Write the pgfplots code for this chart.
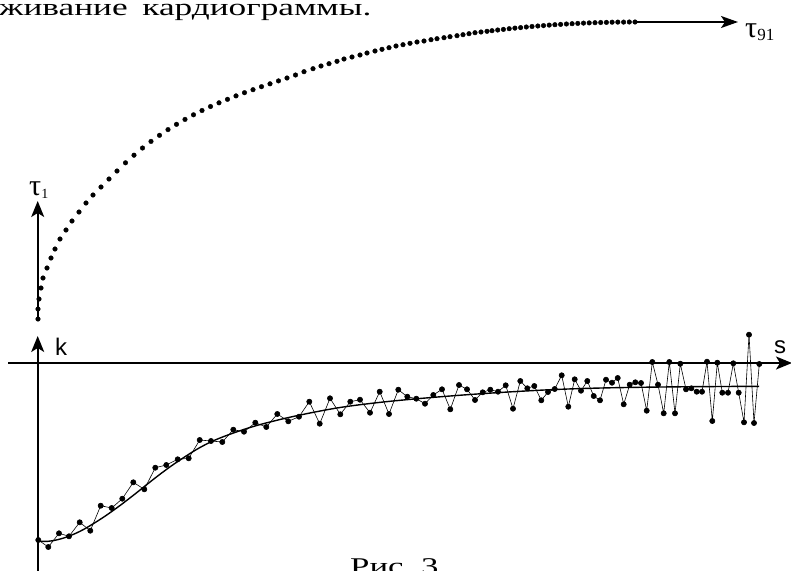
\documentclass[border=0pt]{standalone}
\usepackage{fontspec}
\setmainfont{Liberation Serif}
\newfontfamily\sansf{Liberation Sans}
\usepackage{graphicx}
\usepackage{pgfplots}
\pgfplotsset{compat=1.18}
\usetikzlibrary{arrows.meta}

% coordinates are in pixels of the original figure (y grows downwards)
\pgfplotstableread{
x y
38 319
38 309
39 299
41 288
43 278
47 268
51 258
55 249
60 239
66 230
72 221
79 212
86 203
93 195
101 187
109 179
117 171
125.5 162.8
134 155.2
142.5 148.0
151 141.4
159.5 135.3
168 129.6
176.5 124.3
185 119.4
193.5 114.8
202 110.5
210.5 106.5
219 102.8
227.5 99.3
236 95.9
244.5 92.7
253 89.7
261.5 86.7
270 83.8
278.5 80.9
287 78.0
295.5 75.0
304 71.7
313 68.7
321 66.0
329 63.7
337 61.3
344 59.0
352 57.0
360 55.0
367 53.0
375 51.0
382 49.3
389 47.7
396 46.0
403 44.7
410 43.3
417 42.0
424 41.0
431 39.7
437 38.7
444 37.7
450 36.7
457 35.7
463 34.7
469 33.7
475 32.7
481 32.0
487 31.3
492 30.7
497.7 30.0
503.4 29.4
509.2 28.7
514.9 28.1
520.6 27.6
526.3 27.0
532.0 26.5
537.8 26.0
543.5 25.6
549.2 25.1
554.9 24.7
560.6 24.4
566.4 24.0
572.1 23.7
577.8 23.4
583.5 23.1
589.2 22.9
595.0 22.7
600.7 22.5
606.4 22.4
612.1 22.2
617.8 22.1
623.6 22.1
629.3 22.0
635.0 22.0
}\tautable

\pgfplotstableread{
x y
38.3 540
48.3 547
59 533.3
69 536.3
79.7 522.3
90.3 530.7
100.7 505.7
111.7 508
122.3 498.7
133.3 482.3
144.3 489.3
155.3 467.7
166.3 465
177.7 459.3
188.7 458.3
199.7 440
211 441
222.3 442
233.3 429.7
244 431.7
255.3 422.7
266.3 427
277.3 414
288.3 421.3
299 416.7
309.3 401.7
319.7 423.7
330 398.3
340.3 414.3
350.3 401.7
360 399.7
370 412.7
379.7 391.7
389 414
398.3 389.7
407.3 396.7
416.3 398.7
425 403.7
433.3 395
442 389.3
450.3 409.3
459 385
467 389.3
475 400
482.7 392.3
490.3 389.7
498 391.7
505.7 385.3
513 408.7
520.3 381
527.3 388.3
534.3 386
541.3 400.3
548 392
554.7 389
561.7 375.3
568.3 406.7
574.7 379.3
581 390.7
587.3 381
593.7 396
600 400.3
606 379.7
612 382.7
617.7 378
623.7 404.3
629.7 384.7
635.3 382.3
641 383
646.7 410.7
652.3 362
658 384.7
663.7 413.3
669.3 362
675 413.3
680.3 363.7
686 389.3
691.3 388.3
696.7 391.7
702 391.7
707 361.7
712.3 421
717.3 362.7
722.3 392.7
728 392.7
733.3 363.3
738.7 392.7
744 422.3
749 334.7
754 423
759.3 364
}\ktable

\pgfplotstableread{
x y
38 541
48 541.3
58 539.6
68 536.5
80 531.3
92 524.5
106 515.5
120 505.5
135 494
150 482
165 470.5
180 460
200 447.5
220 438
250 427.5
280 419.5
310 413
340 407.5
370 403.5
400 400.3
440 396.8
480 393.8
520 391.3
560 389.3
610 387.8
680 386.8
759 386.3
}\fittable

\begin{document}
\begin{tikzpicture}
\begin{axis}[
    x=1pt, y=1pt,
    xmin=0, xmax=791, ymin=0, ymax=570,
    y dir=reverse,
    hide axis, clip=false,
    scale only axis,
]
\coordinate (bl) at (axis cs:0,570);
\coordinate (tr) at (axis cs:791,0);

% axes and arrows
\draw[line width=1.6pt, -{Stealth[length=16pt,width=13pt,inset=4pt]}]
    (axis cs:8,363) -- (axis cs:792,363);
\draw[line width=1.6pt, -{Stealth[length=16pt,width=13pt,inset=4pt]}]
    (axis cs:37.7,580) -- (axis cs:37.7,336);
\draw[line width=1.6pt, -{Stealth[length=16pt,width=13pt,inset=4pt]}]
    (axis cs:37.7,318) -- (axis cs:37.7,201);
\draw[line width=1.6pt, -{Stealth[length=17pt,width=12pt,inset=4pt]}]
    (axis cs:635,22) -- (axis cs:738,22);

% tau series
\addplot[only marks, mark=*, mark size=2.3pt, black] table[x=x,y=y] {\tautable};

% k series and its smooth trend
\addplot[black, line width=0.6pt, mark=*, mark size=2.6pt] table[x=x,y=y] {\ktable};
\addplot[black, line width=1.4pt, smooth, tension=0.6] table[x=x,y=y] {\fittable};

% labels
\node[anchor=base west, inner sep=0pt] at (axis cs:55,355) {\sansf\fontsize{24}{24}\selectfont k};
\node[anchor=base west, inner sep=0pt] at (axis cs:774,353) {\sansf\fontsize{24}{24}\selectfont s};
\node[anchor=base west, inner sep=0pt] at (axis cs:29,195) {\fontsize{30}{30}\selectfont τ\raisebox{-3pt}{\fontsize{14}{14}\selectfont 1}};
\node[anchor=base west, inner sep=0pt] at (axis cs:745,37) {\fontsize{30}{30}\selectfont τ\raisebox{-3pt}{\fontsize{17}{17}\selectfont 91}};

\node[anchor=base west, inner sep=0pt] at (axis cs:-1,16)
    {\scalebox{1.47}[1]{\fontsize{24}{24}\selectfont живание\hspace{10pt}кардиограммы.}};
\node[anchor=base west, inner sep=0pt] at (axis cs:350,574)
    {\scalebox{1.45}[1]{\fontsize{24}{24}\selectfont Рис.\ 3}};
\end{axis}
\pgfresetboundingbox
\path (bl) rectangle (tr);
\end{tikzpicture}
\end{document}
